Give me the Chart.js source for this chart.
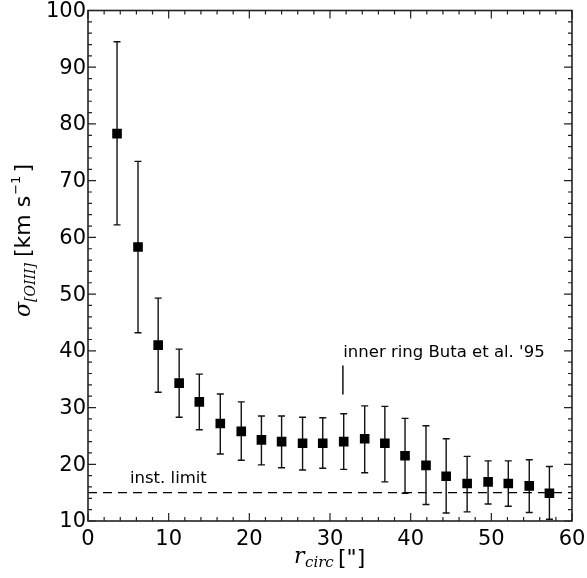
<!DOCTYPE html>
<html>
<head>
<meta charset="utf-8">
<script src="https://cdn.jsdelivr.net/npm/chart.js@4.4.0/dist/chart.umd.min.js"></script>
<style>
  html,body{margin:0;padding:0;background:#fff;}
  #wrap{width:587px;height:578px;position:relative;}
</style>
</head>
<body>
<div id="wrap"><canvas id="c"></canvas></div>
<script>
// sigma [OIII] vs r_circ
const rCirc  = [3.6, 6.2, 8.7, 11.3, 13.8, 16.4, 19.0, 21.5, 24.0, 26.6, 29.1, 31.7, 34.3, 36.8, 39.3, 41.9, 44.4, 47.0, 49.6, 52.1, 54.7, 57.2];
const sigma  = [78.3, 58.3, 41.0, 34.3, 31.0, 27.2, 25.8, 24.3, 24.0, 23.7, 23.7, 24.0, 24.5, 23.7, 21.5, 19.8, 17.9, 16.6, 16.9, 16.6, 16.2, 14.9];
const sigHi  = [94.5, 73.4, 49.3, 40.3, 35.9, 32.4, 31.0, 28.5, 28.5, 28.3, 28.2, 28.9, 30.3, 30.2, 28.1, 26.8, 24.5, 21.4, 20.6, 20.6, 20.8, 19.6];
const sigLo  = [62.2, 43.2, 32.7, 28.3, 26.1, 21.8, 20.7, 19.9, 19.4, 19.0, 19.3, 19.1, 18.5, 16.9, 14.9, 12.9, 11.4, 11.6, 13.0, 12.6, 11.5, 10.3];

const instLimit = 15;
const ringR = 31.6, ringY = [32.3, 37.4];
const xTicks = [0, 10, 20, 30, 40, 50, 60];
const yTicks = [10, 20, 30, 40, 50, 60, 70, 80, 90, 100];

const FONT = '"DejaVu Sans", sans-serif';
const INK = '#000';

// error bars + frame + inward ticks + labels
const decor = {
  id: 'decor',
  beforeDatasetsDraw(chart){
    const {ctx, scales:{x, y}} = chart;
    ctx.save();
    ctx.strokeStyle = '#111';
    ctx.lineWidth = 1.4;
    rCirc.forEach((r, i)=>{
      const px = x.getPixelForValue(r);
      const top = y.getPixelForValue(sigHi[i]);
      const bot = y.getPixelForValue(sigLo[i]);
      ctx.beginPath();
      ctx.moveTo(px, top); ctx.lineTo(px, bot);
      ctx.moveTo(px-3.5, top); ctx.lineTo(px+3.5, top);
      ctx.moveTo(px-3.5, bot); ctx.lineTo(px+3.5, bot);
      ctx.stroke();
    });
    ctx.restore();
  },
  afterDraw(chart){
    const {ctx, chartArea:a, scales:{x, y}} = chart;
    ctx.save();
    ctx.strokeStyle = '#222';
    ctx.lineWidth = 1.6;
    ctx.strokeRect(a.left, a.top, a.right-a.left, a.bottom-a.top);
    ctx.lineWidth = 1.2;
    ctx.beginPath();
    for(let v=0; v<=60; v+=2){
      const p = x.getPixelForValue(v);
      const len = v%10===0 ? 8 : 4;
      ctx.moveTo(p, a.bottom); ctx.lineTo(p, a.bottom-len);
      ctx.moveTo(p, a.top); ctx.lineTo(p, a.top+len);
    }
    for(let v=10; v<=100; v+=2){
      const p = y.getPixelForValue(v);
      const len = v%10===0 ? 8 : 4;
      ctx.moveTo(a.left, p); ctx.lineTo(a.left+len, p);
      ctx.moveTo(a.right, p); ctx.lineTo(a.right-len, p);
    }
    ctx.stroke();

    // tick labels
    ctx.fillStyle = INK;
    ctx.font = '21px ' + FONT;
    ctx.textAlign = 'center';
    ctx.textBaseline = 'alphabetic';
    xTicks.forEach(v => ctx.fillText(String(v), x.getPixelForValue(v), a.bottom + 24));
    ctx.textAlign = 'right';
    ctx.textBaseline = 'middle';
    yTicks.forEach(v => ctx.fillText(String(v), a.left - 2, y.getPixelForValue(v) + 1));

    // annotations
    ctx.font = '16.5px ' + FONT;
    ctx.textBaseline = 'alphabetic';
    ctx.textAlign = 'left';
    ctx.fillText('inst. limit', x.getPixelForValue(5.2), y.getPixelForValue(16.7));
    ctx.fillText("inner ring Buta et al. '95", x.getPixelForValue(31.64), y.getPixelForValue(38.95));

    // x title: r_circ ["]
    const cx = (a.left+a.right)/2;
    ctx.font = 'italic 22px "DejaVu Serif", serif';
    ctx.fillText('r', cx-36, 563);
    ctx.font = 'italic 15px "DejaVu Serif", serif';
    ctx.fillText('circ', cx-25, 567);
    ctx.font = '22px ' + FONT;
    ctx.fillText('["]', cx+8, 565);

    // y title: sigma_[OIII] [km s^-1]
    ctx.translate(30, 245);
    ctx.rotate(-Math.PI/2);
    ctx.textAlign = 'left';
    let px = -72;
    ctx.font = 'italic 22px "DejaVu Serif", serif';
    ctx.fillText('σ', px, 0); px += ctx.measureText('σ').width;
    ctx.font = 'italic 14px "DejaVu Serif", serif';
    ctx.fillText('[OIII]', px, 5); px += ctx.measureText('[OIII]').width + 6;
    ctx.font = '22px ' + FONT;
    ctx.fillText('[km s', px, 0); px += ctx.measureText('[km s').width;
    ctx.font = '13px ' + FONT;
    ctx.fillText('−1', px+1, -10); px += ctx.measureText('−1').width + 4;
    ctx.font = '22px ' + FONT;
    ctx.fillText(']', px, 0);
    ctx.restore();
  }
};

new Chart(document.getElementById('c'), {
  type: 'scatter',
  data: {
    datasets: [
      {
        label: 'sigma',
        data: rCirc.map((r,i)=>({x:r, y:sigma[i]})),
        pointStyle: 'rect',
        pointRadius: 6.8,
        pointBackgroundColor: INK,
        pointBorderWidth: 0,
        showLine: false,
        order: 1
      },
      {
        label: 'inst. limit',
        data: [{x:0, y:instLimit}, {x:60, y:instLimit}],
        showLine: true,
        borderColor: INK,
        borderWidth: 1.4,
        borderDash: [9, 6],
        pointRadius: 0,
        order: 2
      },
      {
        label: 'ring',
        data: [{x:ringR, y:ringY[0]}, {x:ringR, y:ringY[1]}],
        showLine: true,
        borderColor: INK,
        borderWidth: 1.4,
        pointRadius: 0,
        order: 2
      }
    ]
  },
  options: {
    responsive: true,
    maintainAspectRatio: false,
    animation: false,
    layout: {padding: {top: 10.5, right: 15, left: 0, bottom: 0}},
    plugins: {legend: {display: false}, tooltip: {enabled: false}},
    scales: {
      x: {
        type: 'linear', min: 0, max: 60,
        afterFit: s => { s.height = 57; },
        grid: {display: false, drawTicks: false},
        border: {display: false},
        ticks: {display: false}
      },
      y: {
        type: 'linear', min: 10, max: 100,
        afterFit: s => { s.width = 88; },
        grid: {display: false, drawTicks: false},
        border: {display: false},
        ticks: {display: false}
      }
    }
  },
  plugins: [decor]
});
</script>
</body>
</html>
